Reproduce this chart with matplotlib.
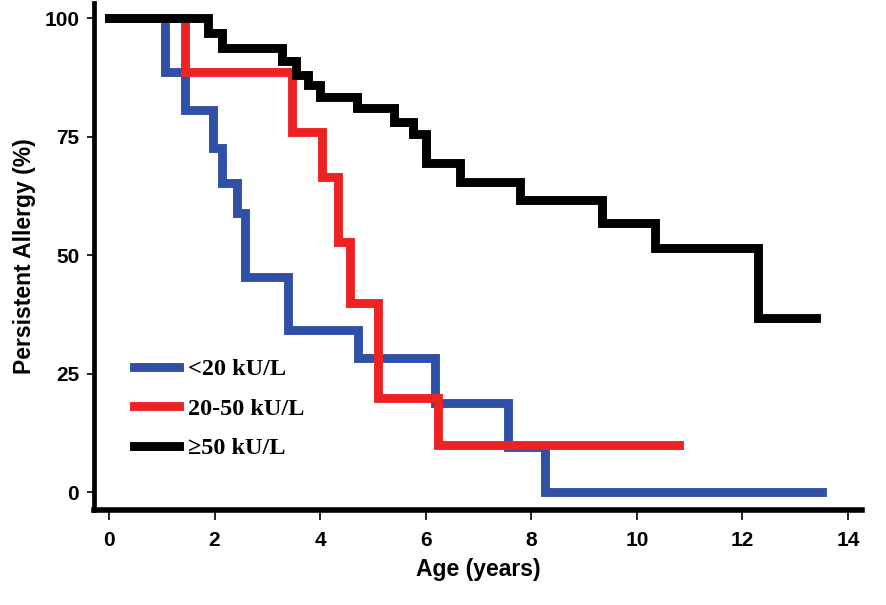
import matplotlib.pyplot as plt
import numpy as np

# step data (years, % persistent)
blue_t = [0, 1.06, 1.44, 1.97, 2.14, 2.42, 2.58, 3.39, 4.72, 6.17, 7.56, 8.26, 13.5]
blue_y = [100, 88.6, 80.6, 72.5, 65.2, 58.8, 45.4, 34.2, 28.3, 18.8, 9.5, 0, 0]

red_t = [0, 1.44, 3.47, 4.03, 4.34, 4.56, 5.1, 6.23, 10.8]
red_y = [100, 88.6, 76.0, 66.5, 52.8, 39.9, 19.8, 9.9, 9.9]

black_t = [0, 1.88, 2.14, 3.27, 3.55, 3.77, 3.99, 4.7, 5.4, 5.75, 6.0, 6.65,
           7.78, 9.34, 10.34, 12.29, 13.4]
black_y = [100, 96.8, 93.7, 91.0, 88.0, 86.0, 83.4, 81.0, 78.0, 75.5, 69.4, 65.4,
           61.6, 56.7, 51.4, 36.7, 36.7]

labels = ['<20 kU/L', '20-50 kU/L', '\u226550 kU/L']
colors = ['#3050a8', '#ee2222', '#000000']

fig = plt.figure(figsize=(8.87, 6.05), dpi=100)
ax = fig.add_axes([0.1065, 0.157, 0.865, 0.838])

for t, y, c, lab in zip([blue_t, red_t, black_t], [blue_y, red_y, black_y], colors, labels):
    ax.step(t, y, where='post', color=c, lw=6.4, label=lab, solid_joinstyle='miter')

ax.set_xlim(-0.275, 14.26)
ax.set_ylim(-3.8, 103.2)
ax.set_xticks(np.arange(0, 15, 2))
ax.set_yticks([0, 25, 50, 75, 100])

for s in ['top', 'right']:
    ax.spines[s].set_visible(False)
ax.spines['left'].set_linewidth(3.4)
ax.spines['bottom'].set_linewidth(4)
ax.tick_params(axis='y', direction='out', length=5, width=1.2, labelsize=15, pad=6)
ax.tick_params(axis='x', direction='out', length=7, width=1.2, labelsize=15, pad=8)
for lab in ax.get_xticklabels() + ax.get_yticklabels():
    lab.set_fontweight('bold')
    lab.set_family('Liberation Sans')

ax.set_xlabel('Age (years)', fontsize=16.5, fontweight='bold', family='Liberation Sans', labelpad=6)
ax.set_ylabel('Persistent Allergy (%)', fontsize=16.5, fontweight='bold', family='Liberation Sans', labelpad=6)

leg = ax.legend(loc='lower left', bbox_to_anchor=(0.14, 0.225), bbox_transform=fig.transFigure,
                borderaxespad=0, frameon=False,
                prop={'family': 'Liberation Serif', 'weight': 'bold', 'size': 17.5},
                handlelength=1.85, labelspacing=0.72, handletextpad=0.38)

fig.savefig('out.png', dpi=100)
